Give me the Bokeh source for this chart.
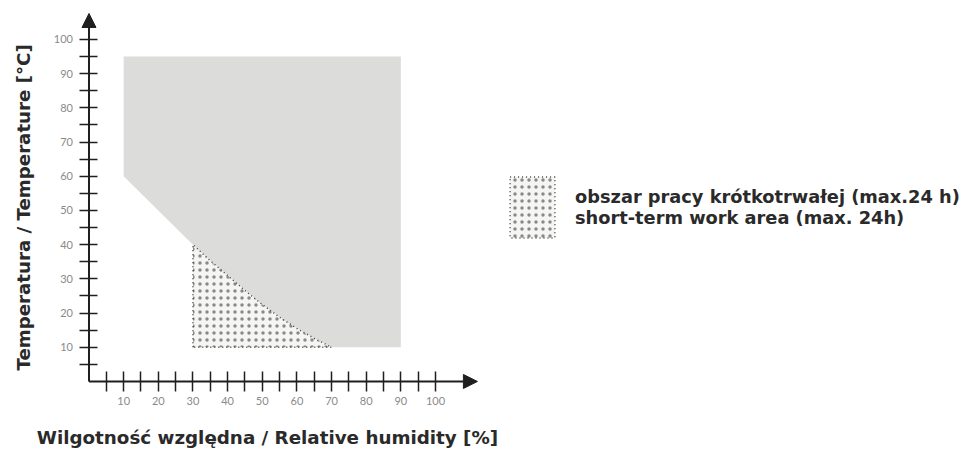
import math
from bokeh.plotting import figure
from bokeh.models import Range1d, FixedTicker, Arrow, NormalHead, Label, Legend, LegendItem
from bokeh.embed import file_html
from bokeh.resources import INLINE

# ---- data ----
# operating area (grey): top-left corner, top-right, bottom-right
area_x = [10, 90, 90]
area_y = [95, 95, 10]
# straight edge on the left
edge_x = [10]
edge_y = [60]
# curved boundary of the short-term area, from (30,40) to (70,10)
curve_x = [30, 35, 40, 45, 50, 55, 60, 65, 70]
curve_y = [40, 35.3, 31, 26.6, 22.5, 18.8, 15.5, 12.6, 10]
# short-term area base corner
short_base_x = [30]
short_base_y = [10]

x_ticks = [10, 20, 30, 40, 50, 60, 70, 80, 90, 100]
x_minor = [5, 15, 25, 35, 45, 55, 65, 75, 85, 95]
y_ticks = [10, 20, 30, 40, 50, 60, 70, 80, 90, 100]
y_minor = [5, 15, 25, 35, 45, 55, 65, 75, 85, 95]

x_label = "Wilgotność względna / Relative humidity [%]"
y_label = "Temperatura / Temperature [°C]"
legend_label = "obszar pracy krótkotrwałej (max.24 h)\nshort-term work area (max. 24h)"

# ---- figure ----
INK = "#1f1f1f"
TXT = "#2a2a2a"
FONT = "DejaVu Sans"
p = figure(width=965, height=454, x_range=Range1d(-25.54, 252.96), y_range=Range1d(-21.35, 111.4),
           output_backend="svg", toolbar_location=None,
           min_border_left=0, min_border_right=0, min_border_top=0, min_border_bottom=0)
p.outline_line_color = None
p.grid.visible = False
p.background_fill_color = "white"

gray_x = area_x + curve_x[::-1] + edge_x
gray_y = area_y + curve_y[::-1] + edge_y
p.patch(gray_x, gray_y, fill_color="#dcdcda", line_color=None)

short_x = short_base_x + curve_x
short_y = short_base_y + curve_y
r_short = p.patch(short_x, short_y, fill_color="#f5f5f4", hatch_pattern="dot", hatch_color="#666666",
                  hatch_alpha=0.75, hatch_scale=7, hatch_weight=0.6, line_color="#444444",
                  line_dash="1 3", line_width=1.5)

for ax, t, m in ((p.xaxis[0], x_ticks, x_minor), (p.yaxis[0], y_ticks, y_minor)):
    ax.ticker = FixedTicker(ticks=t, minor_ticks=m)
    ax.fixed_location = 0
    ax.axis_line_color = None
    ax.major_tick_line_color = INK
    ax.minor_tick_line_color = INK
    ax.major_tick_line_width = 1.5
    ax.minor_tick_line_width = 1.5
    ax.major_label_text_font = "Lato"
    ax.major_label_text_font_size = "11px"
    ax.major_label_text_color = "#8a8a8a"

p.xaxis.major_tick_in = 10
p.xaxis.major_tick_out = 10
p.xaxis.minor_tick_in = 10
p.xaxis.minor_tick_out = 10
p.xaxis.major_label_standoff = 6
p.yaxis.major_tick_in = 9
p.yaxis.major_tick_out = 9
p.yaxis.minor_tick_in = 9
p.yaxis.minor_tick_out = 9
p.yaxis.major_label_standoff = 7

p.add_layout(Arrow(x_start=0, y_start=0, x_end=112.1, y_end=0, line_color=INK, line_width=2,
                   end=NormalHead(size=14, fill_color=INK, line_color=INK)))
p.add_layout(Arrow(x_start=0, y_start=0, x_end=0, y_end=107.6, line_color=INK, line_width=2,
                   end=NormalHead(size=14, fill_color=INK, line_color=INK)))

p.add_layout(Label(x=51.5, y=-16.5, text=x_label, text_align="center", text_baseline="middle",
                   text_font=FONT, text_font_style="bold", text_font_size="18.3px", text_color=TXT))
p.add_layout(Label(x=-18.9, y=50.9, text=y_label, angle=math.pi / 2, text_align="center",
                   text_baseline="middle", text_font=FONT, text_font_style="bold",
                   text_font_size="18.2px", text_color=TXT))

legend = Legend(items=[LegendItem(label=legend_label, renderers=[r_short])], location=(504, 209),
                glyph_width=56, glyph_height=76, label_height=76, label_standoff=15,
                label_text_font=FONT, label_text_font_style="bold", label_text_font_size="17.8px",
                label_text_color=TXT, label_text_line_height=1.3, border_line_color=None,
                background_fill_alpha=0, padding=0, margin=0, spacing=0)
p.add_layout(legend)

open("out.html", "w").write(file_html(p, INLINE))
